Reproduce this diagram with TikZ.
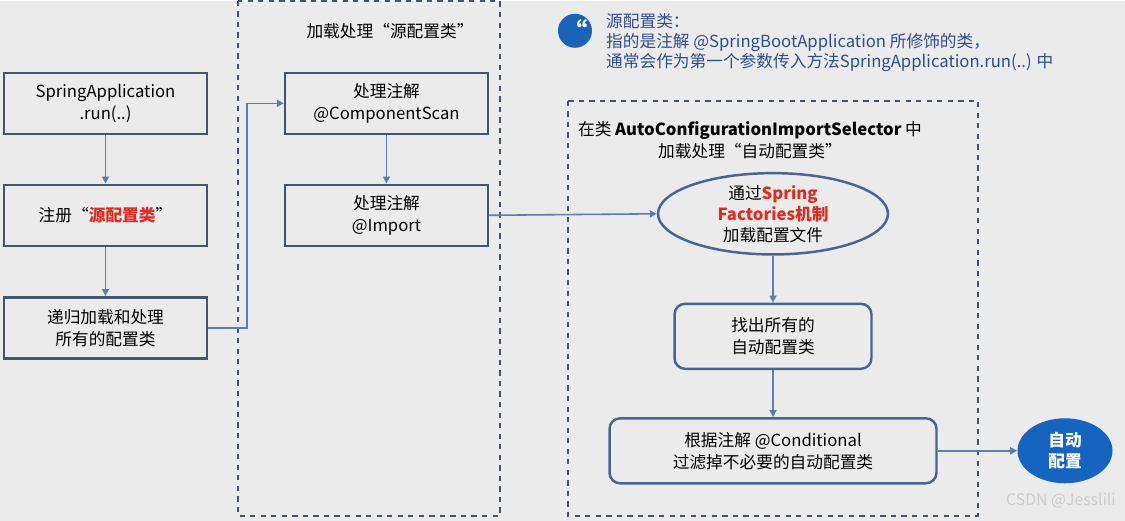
\documentclass[tikz,border=0pt]{standalone}
\usepackage{fontspec}
\setmainfont{Noto Sans CJK SC}
\usetikzlibrary{shapes.geometric,arrows.meta}
\definecolor{bg}{HTML}{EBEBEB}
\definecolor{frame}{HTML}{44546A}
\definecolor{link}{HTML}{5B7DB1}
\definecolor{accent}{HTML}{E02B20}
\definecolor{deepblue}{HTML}{1565C0}
\definecolor{note}{HTML}{2F4E8C}
\tikzset{
  stepbox/.style={draw=frame, line width=1.4pt, fill=bg, minimum width=4.06cm, minimum height=1.22cm, align=center, font=\fontsize{9.5}{12.5}\selectfont},
  roundbox/.style={stepbox, draw=link!80!black, rounded corners=6pt},
  flow/.style={link, line width=0.9pt, -{Triangle[length=4pt,width=4pt]}},
  group/.style={frame, line width=0.9pt, dashed}
}
\begin{document}
\begin{tikzpicture}[x=0.02cm, y=-0.02cm]

    % Background
    \fill[bg] (0,0) rectangle (1125,520);

    % Dashed groups
    \draw[group] (238,0) rectangle (500,515);
    \draw[group] (568,100) rectangle (978,515);

    % Left column
    \node[stepbox] (run) at (105.5,102.5) {SpringApplication\\\textit{.run(..)}};
    \node[stepbox] (reg) at (105.5,214.5) {注册“\textbf{\color{accent}源配置类}”};
    \node[stepbox] (recur) at (105.5,327) {递归加载和处理\\所有的配置类};

    % Source config group
    \node[font=\fontsize{9.5}{12}\selectfont] (srctitle) at (390,30) {加载处理“源配置类”};
    \node[stepbox] (scan) at (386.5,102.5) {处理注解\\@ComponentScan};
    \node[stepbox] (import) at (386.5,214.5) {处理注解\\@Import};

    % Note
    \node[circle, fill=deepblue!90!frame, minimum size=0.68cm, inner sep=0pt, text=white, font=\bfseries\Large] (quote) at (575,30) {“};
    \node[anchor=west, align=left, text=note, font=\fontsize{9.5}{11.5}\selectfont] (notetext) at (600,42)
      {源配置类：\\指的是注解 \textit{@SpringBootApplication} 所修饰的类，\\通常会作为第一个参数传入方法SpringApplication.run(..) 中};

    % Auto config group
    \node[align=center, font=\fontsize{9.5}{12.5}\selectfont] (autotitle) at (750,139)
      {在类 \textbf{\textit{AutoConfigurationImportSelector}} 中\\加载处理“自动配置类”};
    \node[ellipse, draw=link!80!black, line width=1.4pt, fill=bg, minimum width=4.6cm, minimum height=1.6cm, inner sep=0pt, align=center, font=\fontsize{9.5}{12}\selectfont] (factories) at (773,213)
      {通过\textbf{\color{accent}Spring}\\\textbf{\color{accent}Factories机制}\\加载配置文件};
    \node[roundbox, minimum width=3.94cm, minimum height=1.3cm] (find) at (773,335.5) {找出所有的\\自动配置类};
    \node[roundbox, minimum width=6.54cm, minimum height=1.3cm] (cond) at (773,450) {根据注解 @Conditional\\过滤掉不必要的自动配置类};
    \node[ellipse, fill=deepblue, minimum width=1.9cm, minimum height=1.3cm, inner sep=0pt, align=center, text=white, font=\bfseries\fontsize{9.5}{12}\selectfont] (auto) at (1065,450) {自动\\配置};

    % Connectors
    \draw[flow] (run) -- (reg);
    \draw[flow] (reg) -- (recur);
    \draw[flow] (recur.east) -| (247,102.5) -- (scan.west);
    \draw[flow] (scan) -- (import);
    \draw[flow] (import.east) -- (factories.west);
    \draw[flow] (factories) -- (find);
    \draw[flow] (find) -- (cond);
    \draw[flow] (cond.east) -- (auto.west);

    % Watermark
    \node[anchor=east, text=white!60!gray, font=\fontsize{9}{10}\selectfont] (mark) at (1122,500) {CSDN @Jesslili};
\end{tikzpicture}
\end{document}
